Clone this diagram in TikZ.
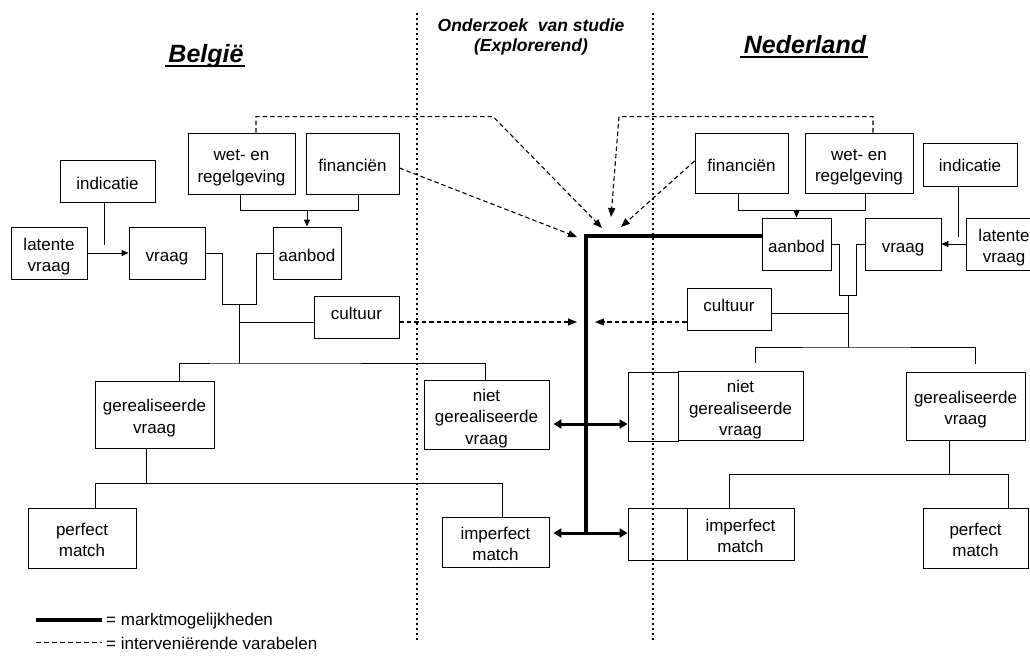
\documentclass[tikz,border=0pt]{standalone}
\usepackage{fontspec}
\setmainfont{Liberation Sans}
\usetikzlibrary{arrows.meta,calc}
\newcommand\bodyfont{\fontsize{17}{21.5}\selectfont}
% struts that fix the first-line height and last-line depth of box texts
\newcommand\up[1][21pt]{\rule{0pt}{#1}}
\newcommand\dn[1][5pt]{\rule[-#1]{0pt}{#1}}
\begin{document}
\begin{tikzpicture}[x=1pt,y=-1pt,
  box/.style={draw, line width=0.9pt, inner sep=0pt, align=center, font=\bodyfont},
  link/.style={line width=0.9pt},
  tri/.style={link, -{Triangle[length=7pt,width=6pt]}},
  infl/.style={line width=1.1pt, dash pattern=on 4.5pt off 3pt, -{Triangle[length=9pt,width=7pt]}},
  market/.style={line width=4pt, line join=miter},
  dbl/.style={line width=3pt, {Triangle[length=8pt,width=9pt]}-{Triangle[length=8pt,width=9pt]}},
  divider/.style={line width=2pt, dash pattern=on 2pt off 3pt},
  title/.style={font=\fontsize{25}{30}\selectfont\bfseries\itshape, anchor=base},
  legendtext/.style={font=\bodyfont, anchor=west, inner sep=0pt}
]
\useasboundingbox (0,0) rectangle (1030,664);
\clip (0,0) rectangle (1030,664);

% column separators
\coordinate (sepLt) at (417,13);  \coordinate (sepLb) at (417,640);
\coordinate (sepRt) at (653,13);  \coordinate (sepRb) at (653,640);
\draw[divider] (sepLt) -- (sepLb);
\draw[divider] (sepRt) -- (sepRb);

% headings
\node[title] (belg) at (206,62) {België};
\draw[line width=1.2pt] ($(belg.base west)+(0,4)$) -- ($(belg.base east)+(-2,4)$);
\node[title] (ned) at (805,53) {Nederland};
\draw[line width=1.2pt] ($(ned.base west)+(0,4)$) -- ($(ned.base east)+(-2,4)$);
\node[font=\fontsize{17.5}{20}\selectfont\bfseries\itshape, align=center] (study) at (531,37)
  {Onderzoek\ \ van studie\\(Explorerend)};

% ---------- Belgium ----------
\node[box, minimum width=95,  minimum height=42] (indL) at (107.5,181)   {\up indicatie\dn};
\node[box, minimum width=107, minimum height=61] (wetL) at (241.5,163.5) {\up wet- en\\regelgeving\dn};
\node[box, minimum width=93,  minimum height=61] (finL) at (352.5,163.5) {\up financiën\dn};
\node[box, minimum width=76,  minimum height=52] (latL) at (49,253)      {\up latente\\vraag\dn};
\node[box, minimum width=76,  minimum height=52] (vraL) at (167,253)     {\up vraag\dn};
\node[box, minimum width=68,  minimum height=52] (aanL) at (307,253)     {\up aanbod\dn};
\node[box, minimum width=85,  minimum height=42] (culL) at (356.5,317)   {\up[13pt]cultuur\dn[9pt]};
\node[box, minimum width=119, minimum height=67] (gerL) at (154.5,414.5) {\up gerealiseerde\\vraag\dn};
\node[box, minimum width=125, minimum height=67] (nietL) at (486.5,414.5) {\up niet\\gerealiseerde\\vraag\dn};
\node[box, minimum width=108, minimum height=60] (perL) at (82,538)      {\up perfect\\match\dn};
\node[box, minimum width=107, minimum height=50] (impL) at (495.5,542)   {\up imperfect\\match\dn};

\draw[link] ($(indL.south)+(-3.5,0)$) -- ++(0,43);
\draw[tri] (latL.east) -- (vraL.west);
\draw[link] ($(wetL.south)+(-1.5,0)$) -- ++(0,16) -| ($(finL.south)+(5.5,0)$);
\draw[tri] ($(aanL.north)+(0,-17)$) -- (aanL.north);
\draw[link] (vraL.east) -- ++(17,0) -- ++(0,51) coordinate (jLa) -- ++(34,0) -- ++(0,-51) -- (aanL.west);
\coordinate (jL) at ($(jLa)+(17,0)$);
\coordinate (splitL) at ($(jL)+(0,59)$);
\draw[link] (jL) -- (splitL);
\coordinate (cL) at ($(culL.west)+(0,5)$);
\draw[link] (cL) -- (cL -| jL);
\draw[link] ($(gerL.north)+(24.5,0)$) |- (splitL) -| ($(nietL.north)+(-1.5,0)$);
\draw[link] ($(gerL.south)+(-8.5,0)$) -- ++(0,35) coordinate (sL2);
\draw[link] ($(perL.north)+(13,0)$) |- (sL2) -| ($(impL.north)+(6.5,0)$);

% ---------- Netherlands ----------
\node[box, minimum width=93,  minimum height=60] (finR) at (741.5,163) {\up financiën\dn};
\node[box, minimum width=108, minimum height=60] (wetR) at (859,163)   {\up wet- en\\regelgeving\dn};
\node[box, minimum width=94,  minimum height=43] (indR) at (970,164.5) {\up[18pt]indicatie\dn};
\node[box, minimum width=69,  minimum height=52] (aanR) at (796.5,244) {\up aanbod\dn};
\node[box, minimum width=76,  minimum height=52] (vraR) at (903,244)   {\up vraag\dn};
\node[box, minimum width=76,  minimum height=52] (latR) at (1004,244)  {\up latente\\vraag\dn};
\node[box, minimum width=84,  minimum height=42] (culR) at (729,309)   {\up[13pt]cultuur\dn[9pt]};
\node[box, minimum width=50,  minimum height=69] (nietRa) at (653,406.5) {};
\node[box, minimum width=125, minimum height=68] (nietRb) at (740.5,406) {\up niet\\gerealiseerde\\vraag\dn};
\node[box, minimum width=119, minimum height=68] (gerR) at (965.5,406) {\up gerealiseerde\\vraag\dn};
\node[box, minimum width=59,  minimum height=52] (impRa) at (657.5,534) {};
\node[box, minimum width=107, minimum height=52] (impRb) at (740.5,534) {\up imperfect\\match\dn};
\node[box, minimum width=105, minimum height=60] (perR) at (975.5,538) {\up perfect\\match\dn};

\draw[link] ($(indR.south)+(-12,0)$) -- ++(0,51);
\draw[tri] (latR.west) -- (vraR.east);
\draw[link] ($(finR.south)+(-3.5,0)$) -- ++(0,17) -| ($(wetR.south)+(6,0)$);
\draw[tri] ($(aanR.north)+(0,-8)$) -- (aanR.north);
\draw[link] (aanR.east) -- ++(8,0) -- ++(0,51) coordinate (jRa) -- ++(17,0) -- ++(0,-51) -- (vraR.west);
\coordinate (jR) at ($(jRa)+(8.5,0)$);
\coordinate (splitR) at ($(jR)+(0,52)$);
\draw[link] (jR) -- (splitR);
\coordinate (cR) at ($(culR.east)+(0,4)$);
\draw[link] (cR) -- (cR -| jR);
\draw[link] ($(nietRb.north)+(14.5,-8)$) |- (splitR) -| ($(gerR.north)+(9.5,-8)$);
\draw[link] ($(gerR.south)+(-16.5,0)$) -- ++(0,34) coordinate (sR2);
\draw[link] ($(impRb.north)+(-11.5,0)$) |- (sR2) -| ($(perR.north)+(32.5,0)$);

% ---------- market possibilities ----------
\coordinate (corner) at (586,236);
\coordinate (mNiet) at (586,424);
\coordinate (mImp) at (586,533);
\draw[market] ($(aanR.west)+(0,-8)$) -- (corner) -- (mImp);
\draw[dbl, shorten <=4pt] (nietL.east |- mNiet) -- (nietRa.west |- mNiet);
\draw[dbl, shorten <=4pt] (impL.east |- mImp) -- (impRa.west |- mImp);

% ---------- intervening variables ----------
\coordinate (tipA) at (602,228);
\coordinate (tipB) at (577,237);
\coordinate (tipC) at (577,322);
\coordinate (tipD) at (611,217);
\coordinate (tipE) at (621,227);
\coordinate (tipF) at (595,322);
\draw[infl] ($(wetL.north)+(14.5,0)$) -- ++(0,-16) -- ++(237,0) -- (tipA);
\draw[infl] ($(finL.east)+(0,4.5)$) -- (tipB);
\draw[infl] (cL -| culL.east) -- (tipC);
\draw[infl] ($(wetR.north)+(14,0)$) -- ++(0,-16) -- ++(-254,0) -- (tipD);
\draw[infl] ($(finR.west)+(0,-2)$) -- (tipE);
\draw[infl] ($(culR.west)+(0,13)$) -- (tipF);

% ---------- legend ----------
\coordinate (lgA1) at (36,620); \coordinate (lgA2) at (102,620);
\coordinate (lgB1) at (36,642); \coordinate (lgB2) at (102,642);
\draw[line width=4pt] (lgA1) -- (lgA2);
\node[legendtext] (lgAt) at ($(lgA2)+(4,1)$) {= marktmogelijkheden};
\draw[line width=0.9pt, dash pattern=on 5pt off 3pt] (lgB1) -- (lgB2);
\node[legendtext] (lgBt) at ($(lgB2)+(4,1)$) {= interveniërende varabelen};
\end{tikzpicture}
\end{document}
